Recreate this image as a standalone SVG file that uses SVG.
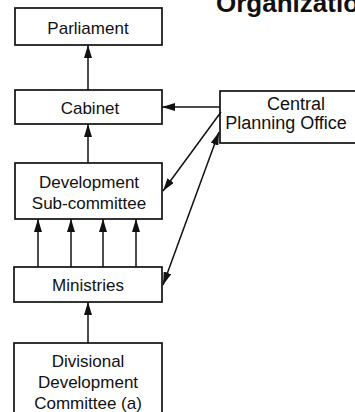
<svg xmlns="http://www.w3.org/2000/svg" width="355" height="412" viewBox="0 0 355 412">
  <style>
    .box { fill: #ffffff; stroke: #111111; stroke-width: 1.7; }
    .lbl { font-family: "Liberation Sans", Arial, Helvetica, sans-serif; font-size: 17px; fill: #111111; text-anchor: middle; }
    .big { font-size: 18px; }
    .title { font-family: "Liberation Sans", Arial, Helvetica, sans-serif; font-size: 26px; font-weight: bold; fill: #111111; }
    .conn { stroke: #111111; stroke-width: 1.5; fill: none; }
  </style>
  <defs>
    <marker id="arrow" viewBox="0 0 13 8" refX="13" refY="4" markerWidth="13" markerHeight="8" markerUnits="userSpaceOnUse" orient="auto-start-reverse">
      <path d="M0,0 L13,4 L0,8 Z" fill="#111111"/>
    </marker>
  </defs>

  <rect width="355" height="412" fill="#ffffff"/>

  <text class="title" x="216" y="12">Organization</text>

  <g id="parliament">
    <rect class="box" x="15" y="8" width="147" height="37"/>
    <text class="lbl" x="88" y="34">Parliament</text>
  </g>

  <g id="cabinet">
    <rect class="box" x="15" y="90" width="147" height="34"/>
    <text class="lbl" x="90" y="114">Cabinet</text>
  </g>

  <g id="central-planning-office">
    <rect class="box" x="220" y="91" width="140" height="52"/>
    <text class="lbl big" x="296" y="110">Central</text>
    <text class="lbl big" x="286" y="129">Planning Office</text>
  </g>

  <g id="development-sub-committee">
    <rect class="box" x="15" y="163" width="147" height="56"/>
    <text class="lbl" x="89" y="188">Development</text>
    <text class="lbl" x="89" y="209">Sub-committee</text>
  </g>

  <g id="ministries">
    <rect class="box" x="14" y="267" width="148" height="35"/>
    <text class="lbl" x="88" y="291">Ministries</text>
  </g>

  <g id="divisional-development-committee">
    <rect class="box" x="14" y="343" width="148" height="80"/>
    <text class="lbl" x="88" y="367">Divisional</text>
    <text class="lbl" x="88" y="388">Development</text>
    <text class="lbl" x="88" y="409">Committee (a)</text>
  </g>

  <g id="connectors">
    <!-- vertical chain -->
    <line class="conn" x1="88" y1="90" x2="88" y2="45" marker-end="url(#arrow)"/>
    <line class="conn" x1="88" y1="163" x2="88" y2="124" marker-end="url(#arrow)"/>
    <line class="conn" x1="88" y1="343" x2="88" y2="302" marker-end="url(#arrow)"/>
    <!-- ministries to sub-committee -->
    <line class="conn" x1="38" y1="267" x2="38" y2="219" marker-end="url(#arrow)"/>
    <line class="conn" x1="71" y1="267" x2="71" y2="219" marker-end="url(#arrow)"/>
    <line class="conn" x1="103" y1="267" x2="103" y2="219" marker-end="url(#arrow)"/>
    <line class="conn" x1="136" y1="267" x2="136" y2="219" marker-end="url(#arrow)"/>
    <!-- planning office links -->
    <line class="conn" x1="220" y1="107" x2="162" y2="107" marker-end="url(#arrow)"/>
    <line class="conn" x1="221" y1="112" x2="163" y2="191" marker-end="url(#arrow)"/>
    <line class="conn" x1="219" y1="132" x2="163" y2="285" marker-start="url(#arrow)" marker-end="url(#arrow)"/>
  </g>
</svg>
